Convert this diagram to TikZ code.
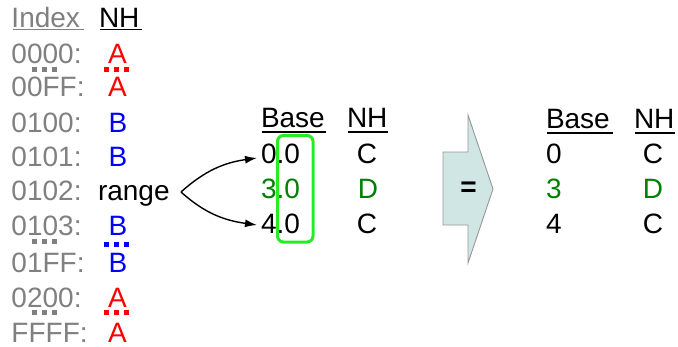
\documentclass[tikz,border=0pt]{standalone}
\usepackage{fontspec}
\setmainfont{Liberation Sans}
\usetikzlibrary{arrows.meta}
\definecolor{idxgray}{RGB}{128,128,128}
\definecolor{nhgreen}{RGB}{0,128,0}
\definecolor{boxgreen}{RGB}{40,235,40}
\definecolor{arrfill}{RGB}{208,230,228}
\definecolor{arrline}{RGB}{150,150,150}
\newcommand{\ellipdots}[3]{\foreach \k in {0,1,2}{\fill[#3] ({#1+\k*10-2.6},{#2-2.5}) rectangle ({#1+\k*10+2.6},{#2+2.5});}}
\begin{document}
\begin{tikzpicture}[x=1pt,y=-1pt,
  every node/.style={inner sep=0pt,outer sep=0pt,font=\fontsize{28}{32}\selectfont},
  idx/.style={text=idxgray,anchor=base west},
  nh/.style={anchor=base},
  lbl/.style={anchor=base west},
  conn/.style={line width=1.4pt,-{Latex[length=12pt,width=8pt]}},
  uline/.style={line width=1.6pt}]
\useasboundingbox (0,0) rectangle (678,346);
% headers left
\node[idx] (hidx) at (11.5,27) {Index};
\node[lbl] (hnh) at (99,27) {NH};
\draw[uline,idxgray] (12.5,29.5) -- (83.5,29.5);
\draw[uline] (100,29.5) -- (142,29.5);
% index column
\node[idx] (i0) at (11.5,63) {0000:};
\node[idx] (i1) at (11.5,96) {00FF:};
\node[idx] (i2) at (11.5,132) {0100:};
\node[idx] (i3) at (11.5,166) {0101:};
\node[idx] (i4) at (11.5,200) {0102:};
\node[idx] (i5) at (11.5,235) {0103:};
\node[idx] (i6) at (11.5,272) {01FF:};
\node[idx] (i7) at (11.5,307) {0200:};
\node[idx] (i8) at (11.5,342) {FFFF:};
% NH column
\node[nh,text=red] (n0) at (117.5,63) {A};
\node[nh,text=red] (n1) at (117.5,96) {A};
\node[nh,text=blue] (n2) at (118,132) {B};
\node[nh,text=blue] (n3) at (118,166) {B};
\node[lbl] (range) at (98,200) {range};
\node[nh,text=blue] (n5) at (118,235) {B};
\node[nh,text=blue] (n6) at (118,272) {B};
\node[nh,text=red] (n7) at (117.5,307) {A};
\node[nh,text=red] (n8) at (117.5,342) {A};
% ellipsis dots
\ellipdots{34.3}{69.5}{idxgray}
\ellipdots{106.7}{69.8}{red}
\ellipdots{34.3}{241.5}{idxgray}
\ellipdots{106.7}{244}{blue}
\ellipdots{34.3}{312.5}{idxgray}
\ellipdots{106.7}{312.5}{red}
% middle table
\node[lbl] (mbase) at (261,127) {Base};
\node[lbl] (mnh) at (347,127) {NH};
\draw[uline] (261.5,132) -- (325.5,132);
\draw[uline] (348,132) -- (387.5,132);
\node[lbl] (b0) at (261,163) {0.0};
\node[lbl,text=nhgreen] (b1) at (261,198.5) {3.0};
\node[lbl] (b2) at (261,233) {4.0};
\node[nh] (c0) at (367,163) {C};
\node[nh,text=nhgreen] (c1) at (368,198.5) {D};
\node[nh] (c2) at (367,233) {C};
\draw[boxgreen,line width=3pt,rounded corners=6pt] (277.5,135.5) rectangle (313,242);
% connectors
\coordinate (rs) at (181,192);
\coordinate (t0) at (257,158);
\coordinate (t2) at (257,225);
\draw[conn] (rs) to[out=42,in=188] (t0);
\draw[conn] (rs) to[out=-42,in=172] (t2);
% big arrow
\draw[arrline,fill=arrfill,line width=0.9pt] (443,152) -- (468,152) -- (468,115) -- (493,189) -- (468,263) -- (468,225) -- (443,225) -- cycle;
\node (eq) at (468.5,189.5) {\bfseries =};
% right table
\node[lbl] (rbase) at (546,128) {Base};
\node[lbl] (rnh) at (634,128) {NH};
\draw[uline] (547,133) -- (613,133);
\draw[uline] (635,133) -- (675,133);
\node[lbl] (r0) at (546,163) {0};
\node[lbl,text=nhgreen] (r1) at (546,198.5) {3};
\node[lbl] (r2) at (546,233) {4};
\node[nh] (s0) at (653,163) {C};
\node[nh,text=nhgreen] (s1) at (653,198.5) {D};
\node[nh] (s2) at (653,233) {C};
\end{tikzpicture}
\end{document}
